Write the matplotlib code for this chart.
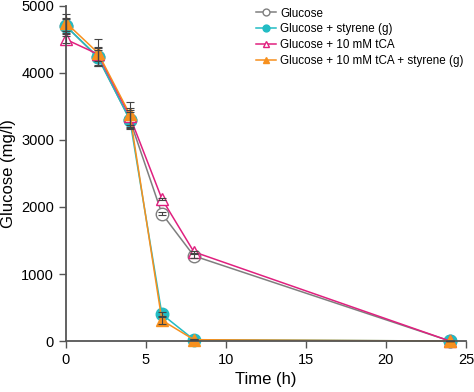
import numpy as np
import matplotlib.pyplot as plt

plt.rcParams['font.family'] = ['Liberation Sans', 'DejaVu Sans']

time_h = [0, 2, 4, 6, 8, 24]

glucose = [4700, 4230, 3300, 1900, 1270, 0]
glucose_err = [100, 110, 120, 20, 30, 0]

glucose_sty = [4700, 4240, 3300, 400, 20, 0]
glucose_sty_err = [120, 130, 140, 40, 10, 0]

glucose_tca = [4500, 4280, 3350, 2120, 1330, 0]
glucose_tca_err = [50, 100, 120, 20, 20, 0]

glucose_tca_sty = [4750, 4300, 3380, 310, 20, 0]
glucose_tca_sty_err = [130, 200, 180, 60, 10, 0]

labels = ['Glucose', 'Glucose + styrene (g)', 'Glucose + 10 mM tCA',
          'Glucose + 10 mM tCA + styrene (g)']

fig = plt.figure(figsize=(4.74, 3.92), dpi=100)
ax = fig.add_axes([0.139, 0.13, 0.844, 0.855])

series = [
    (glucose, glucose_err, '#7f7f7f', 'o', 'white'),
    (glucose_sty, glucose_sty_err, '#22bcc4', 'o', '#22bcc4'),
    (glucose_tca, glucose_tca_err, '#e0207f', '^', 'white'),
    (glucose_tca_sty, glucose_tca_sty_err, '#f7901e', '^', '#f7901e'),
]

for (y, err, col, mk, fc), lab in zip(series, labels):
    ax.errorbar(time_h, y, yerr=err, fmt='none', ecolor='#444444',
                elinewidth=0.8, capsize=3, capthick=0.8, zorder=3)
    ax.plot(time_h, y, color=col, marker=mk, markerfacecolor=fc,
            markeredgecolor=col, markersize=9, linewidth=1.1, label=lab, zorder=2)

ax.set_xlim(0, 25)
ax.set_ylim(0, 5000)
ax.set_xticks([0, 5, 10, 15, 20, 25])
ax.set_yticks([0, 1000, 2000, 3000, 4000, 5000])
ax.spines['top'].set_visible(False)
ax.spines['right'].set_visible(False)
for s in ['left', 'bottom']:
    ax.spines[s].set_color('#555555')
    ax.spines[s].set_linewidth(1.3)
ax.tick_params(direction='out', length=5, width=1, color='#555555',
               labelsize=10.5)
ax.set_xlabel('Time (h)', fontsize=12)
ax.set_ylabel('Glucose (mg/l)', fontsize=12)

ax.legend(loc='upper left', frameon=False, fontsize=8.4, markerscale=0.55,
          handlelength=1.7, handletextpad=0.4, labelspacing=0.32,
          borderpad=0, borderaxespad=0, bbox_to_anchor=(0.475, 0.995))

for line in ax.lines:
    line.set_clip_on(False)

fig.savefig('out.png', dpi=100)
